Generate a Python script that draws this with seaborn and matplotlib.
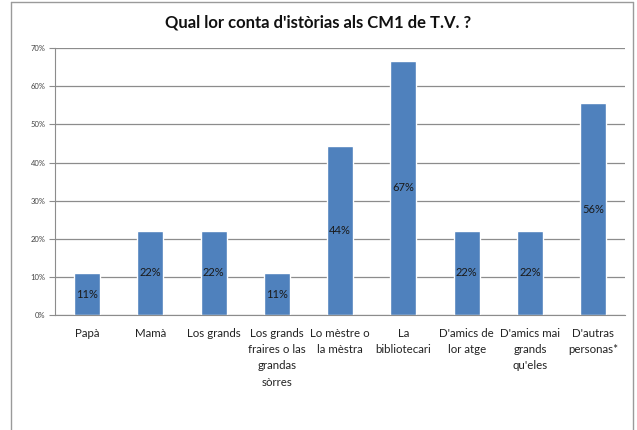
import numpy as np
import pandas as pd
import matplotlib
matplotlib.use('Agg')
import matplotlib.pyplot as plt
import seaborn as sns
from matplotlib.ticker import PercentFormatter

# Chart data
categories = ["Papà", "Mamà", "Los grands",
              "Los grands\nfraires o las\ngrandas\nsòrres",
              "Lo mèstre o\nla mèstra", "La\nbibliotecari",
              "D'amics de\nlor atge", "D'amics mai\ngrands\nqu'eles",
              "D'autras\npersonas*"]
values = [0.111, 0.222, 0.222, 0.111, 0.444, 0.667, 0.222, 0.222, 0.556]
bar_labels = ["11%", "22%", "22%", "11%", "44%", "67%", "22%", "22%", "56%"]
y_ticks = [0, 0.1, 0.2, 0.3, 0.4, 0.5, 0.6, 0.7]
title = "Qual lor conta d'istòrias als CM1 de T.V. ?"

sns.set_style("white")
plt.rcParams['font.family'] = ['Lato', 'DejaVu Sans']

df = pd.DataFrame({'cat': categories, 'val': values})

fig = plt.figure(figsize=(6.37, 4.30), dpi=100)
ax = fig.add_axes([0.087, 0.267, 0.894, 0.621])

sns.barplot(data=df, x='cat', y='val', color='#4F81BD', saturation=1,
            width=0.41, ax=ax)

ax.bar_label(ax.containers[0], labels=bar_labels, label_type='center',
             fontsize=8, color='#1a1a1a')

ax.set_ylim(0, 0.7)
ax.set_xlim(-0.5, len(categories) - 0.5)
ax.set_yticks(y_ticks)
ax.yaxis.set_major_formatter(PercentFormatter(1.0, decimals=0))
ax.grid(axis='y', color='#8c8c8c', linewidth=0.9)
ax.set_axisbelow(True)

ax.set_xticks(range(len(categories)))
ax.set_xticklabels(categories, fontsize=8.3, color='#222222', linespacing=1.6)
ax.set_xticks(np.arange(-0.5, len(categories), 1), minor=True)
ax.tick_params(axis='x', which='major', length=0, pad=9)
ax.tick_params(axis='x', which='minor', length=4, color='#8c8c8c', direction='out')
ax.tick_params(axis='y', labelsize=5.5, labelcolor='#444444', length=4,
               color='#8c8c8c', direction='out', left=True, pad=3)
for lbl in ax.get_xticklabels():
    lbl.set_verticalalignment('top')

ax.set_xlabel('')
ax.set_ylabel('')
sns.despine(ax=ax, top=True, right=True)
ax.spines['left'].set_color('#8c8c8c')
ax.spines['bottom'].set_color('#8c8c8c')

fig.text(0.50, 0.948, title, ha='center', va='center', fontsize=12,
         fontweight='bold', color='#111111')

# chart area frame (screenshot border)
fig.add_artist(plt.Line2D([11 / 637, 11 / 637], [0, 1 - 2 / 430],
                          transform=fig.transFigure, color='#9a9a9a', lw=1))
fig.add_artist(plt.Line2D([11 / 637, 633 / 637], [1 - 2 / 430, 1 - 2 / 430],
                          transform=fig.transFigure, color='#9a9a9a', lw=1))
fig.add_artist(plt.Line2D([633 / 637, 633 / 637], [0, 1 - 2 / 430],
                          transform=fig.transFigure, color='#9a9a9a', lw=1))

fig.savefig('out.png', dpi=100)
